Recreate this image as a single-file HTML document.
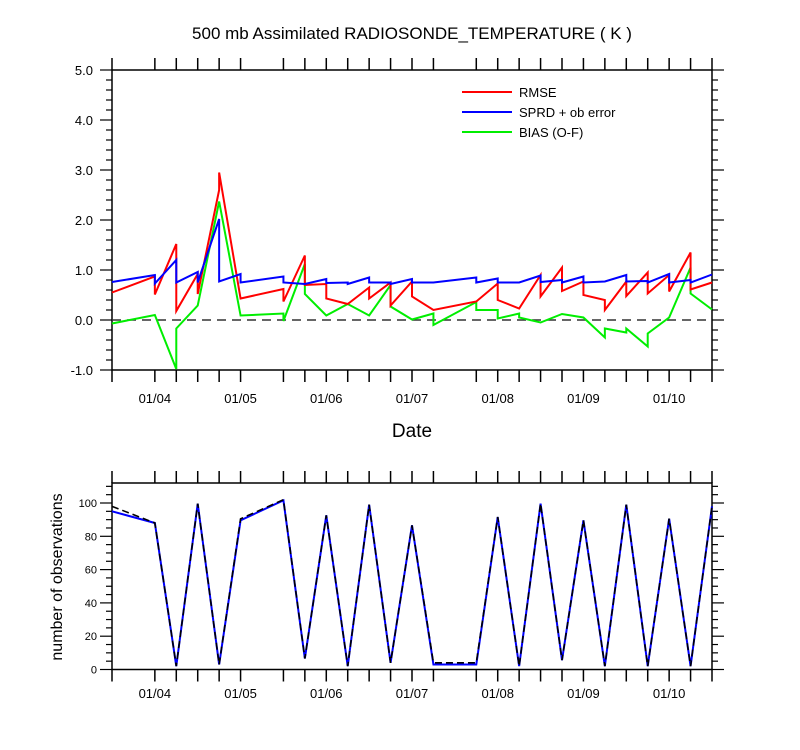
<!DOCTYPE html>
<html><head><meta charset="utf-8">
<style>
html,body{margin:0;padding:0;background:#fff;}
svg{display:block;font-family:"Liberation Sans",sans-serif;}
</style></head>
<body>
<svg id="chart" width="800" height="750" viewBox="0 0 800 750" xmlns="http://www.w3.org/2000/svg">
<text x="412" y="39" font-size="17" text-anchor="middle">500 mb Assimilated RADIOSONDE_TEMPERATURE ( K )</text>
<text x="412" y="437" font-size="19" text-anchor="middle">Date</text>
<text transform="translate(62,577) rotate(-90)" font-size="16" text-anchor="middle">number of observations</text>
<g id="topPanel"></g>
<g id="botPanel"></g>
<g>
<line x1="462" y1="92" x2="512" y2="92" stroke="#f00" stroke-width="2"/>
<text x="519" y="97" font-size="13">RMSE</text>
<line x1="462" y1="112" x2="512" y2="112" stroke="#00f" stroke-width="2"/>
<text x="519" y="117" font-size="13">SPRD + ob error</text>
<line x1="462" y1="132" x2="512" y2="132" stroke="#0e0" stroke-width="2"/>
<text x="519" y="137" font-size="13">BIAS (O-F)</text>
</g>
</svg>
<script>
// time indices in 6-hour steps from 01/03 12Z
const dateLabels = ["01/04","01/05","01/06","01/07","01/08","01/09","01/10"];
const dateIdx = [2,6,10,14,18,22,26];
const tickIdx = [0,2,3,4,5,6,8,9,10,11,12,13,14,15,17,18,19,20,21,22,23,24,25,26,27,28];
const topYTicks = [-1,0,1,2,3,4,5];
const botYTicks = [0,20,40,60,80,100];

const rmseT = [0,2,2,3,3,4,4,5,5,6,8,8,9,9,10,10,11,12,12,13,13,14,14,15,17,18,18,19,20,20,21,21,22,22,23,23,24,24,25,25,26,26,27,27,28];
const rmseV = [0.55,0.87,0.51,1.52,0.18,0.92,0.52,2.6,2.95,0.43,0.62,0.37,1.29,0.70,0.72,0.43,0.32,0.65,0.43,0.75,0.29,0.77,0.47,0.2,0.37,0.73,0.4,0.23,0.9,0.47,1.05,0.58,0.77,0.5,0.4,0.2,0.77,0.48,0.95,0.53,0.9,0.57,1.35,0.61,0.75];
const sprdT = [0,2,2,3,3,4,4,5,5,6,6,8,8,9,10,10,11,11,12,12,13,13,14,14,15,17,17,18,18,19,20,20,21,21,22,22,23,24,24,25,25,26,26,27,27,28];
const sprdV = [0.76,0.9,0.73,1.2,0.75,0.96,0.75,2.02,0.77,0.92,0.75,0.87,0.75,0.72,0.82,0.74,0.75,0.72,0.85,0.75,0.75,0.72,0.82,0.75,0.75,0.85,0.75,0.83,0.75,0.75,0.89,0.76,0.8,0.75,0.87,0.75,0.77,0.9,0.77,0.78,0.75,0.92,0.75,0.8,0.75,0.91];
const biasT = [0,2,3,3,4,5,6,8,8,9,9,10,11,12,13,13,14,15,15,17,17,18,18,19,19,20,21,22,23,23,24,24,25,25,26,27,27,28];
const biasV = [-0.07,0.1,-0.98,-0.17,0.29,2.37,0.09,0.13,-0.02,1.12,0.52,0.09,0.32,0.09,0.7,0.27,0.01,0.13,-0.1,0.36,0.2,0.2,0.03,0.13,0.05,-0.05,0.12,0.05,-0.35,-0.17,-0.25,-0.17,-0.53,-0.27,0.05,1.05,0.53,0.21];

const obsT = [0,2,3,4,5,6,8,9,10,11,12,13,14,15,17,18,19,20,21,22,23,24,25,26,27,28];
const obsUsed = [95,88,2,99.6,3,89.6,101.6,6.6,92.6,2,99,4,86.6,3,3,91.6,2,99.6,5.6,89.6,2,99,2,90.6,2,98];
const obsTotal = [98,88,2,99.6,3,90.5,102,6.6,92.6,2,99,4,86.6,4,4,91.6,2,99.6,5.6,89.6,2,99,2,90.6,2,98];

const NS="http://www.w3.org/2000/svg";
const L=112,R=712;
const X=t=>L+(R-L)*t/28;
const topY=v=>320-50*v;
const botY=v=>669.5-(669.5-503)*v/100;
function mk(p,tag,a){const e=document.createElementNS(NS,tag);for(const k in a)e.setAttribute(k,a[k]);p.appendChild(e);return e;}
const topG=document.getElementById('topPanel'), botG=document.getElementById('botPanel');

function frame(g,y0,y1,name){
  const r=mk(g,'rect',{x:L,y:y0,width:R-L,height:y1-y0,fill:'none',stroke:'#000','stroke-width':1.5});
  
  
  tickIdx.forEach(t=>{
    const x=X(t);
    const a=mk(g,'line',{x1:x,y1:y1,x2:x,y2:y1+12,stroke:'#000','stroke-width':1.5});
    
    
    const b=mk(g,'line',{x1:x,y1:y0,x2:x,y2:y0-12,stroke:'#000','stroke-width':1.5});
    
    
  });
}
function series(g,T,V,yf,color,w,name,dash){
  const pts=T.map((t,i)=>X(t)+','+yf(V[i])).join(' ');
  const a={points:pts,fill:'none',stroke:color,'stroke-width':w,'stroke-linejoin':'miter'};
  if(dash)a['stroke-dasharray']=dash;
  const p=mk(g,'polyline',a);
  
  
}

// top panel
frame(topG,70,370,'top-plot-frame');
for(let v=-1;v<=5.001;v+=0.2){
  const y=topY(v), maj=Math.abs(v-Math.round(v))<0.01;
  const len=maj?12:6;
  const a=mk(topG,'line',{x1:L-len,y1:y,x2:L,y2:y,stroke:'#000','stroke-width':1.2});
  
  
  const b=mk(topG,'line',{x1:R,y1:y,x2:R+len,y2:y,stroke:'#000','stroke-width':1.2});
  
  
}
topYTicks.forEach(v=>{
  const t=mk(topG,'text',{x:93,y:topY(v)+5,'font-size':13,'text-anchor':'end'});
  t.textContent=v.toFixed(1);
  
  
});
const z=mk(topG,'line',{x1:L,y1:topY(0),x2:R,y2:topY(0),stroke:'#333','stroke-width':1.5,'stroke-dasharray':'9,6'});


dateLabels.forEach((d,i)=>{
  const t=mk(topG,'text',{x:X(dateIdx[i]),y:403,'font-size':13,'text-anchor':'middle'});
  t.textContent=d;
  
  
});
series(topG,biasT,biasV,topY,'#0e0',2,'bias-line');
series(topG,rmseT,rmseV,topY,'#f00',2,'rmse-line');
series(topG,sprdT,sprdV,topY,'#00f',2,'sprd-line');

// bottom panel
frame(botG,483,669.5,'bottom-plot-frame');
for(let v=0;v<=110;v+=5){
  const y=botY(v), maj=v%20===0, len=maj?12:6;
  const a=mk(botG,'line',{x1:L-len,y1:y,x2:L,y2:y,stroke:'#000','stroke-width':1.2});
  
  
  const b=mk(botG,'line',{x1:R,y1:y,x2:R+len,y2:y,stroke:'#000','stroke-width':1.2});
  
  
}
botYTicks.forEach(v=>{
  const t=mk(botG,'text',{x:97,y:botY(v)+4,'font-size':11,'text-anchor':'end'});
  t.textContent=v;
  
  
});
dateLabels.forEach((d,i)=>{
  const t=mk(botG,'text',{x:X(dateIdx[i]),y:698,'font-size':13,'text-anchor':'middle'});
  t.textContent=d;
  
  
});
series(botG,obsT,obsUsed,botY,'#00f',2,'obs-used-line');
series(botG,obsT,obsTotal,botY,'#000',1.6,'obs-total-line','7,4');
</script>
</body></html>
